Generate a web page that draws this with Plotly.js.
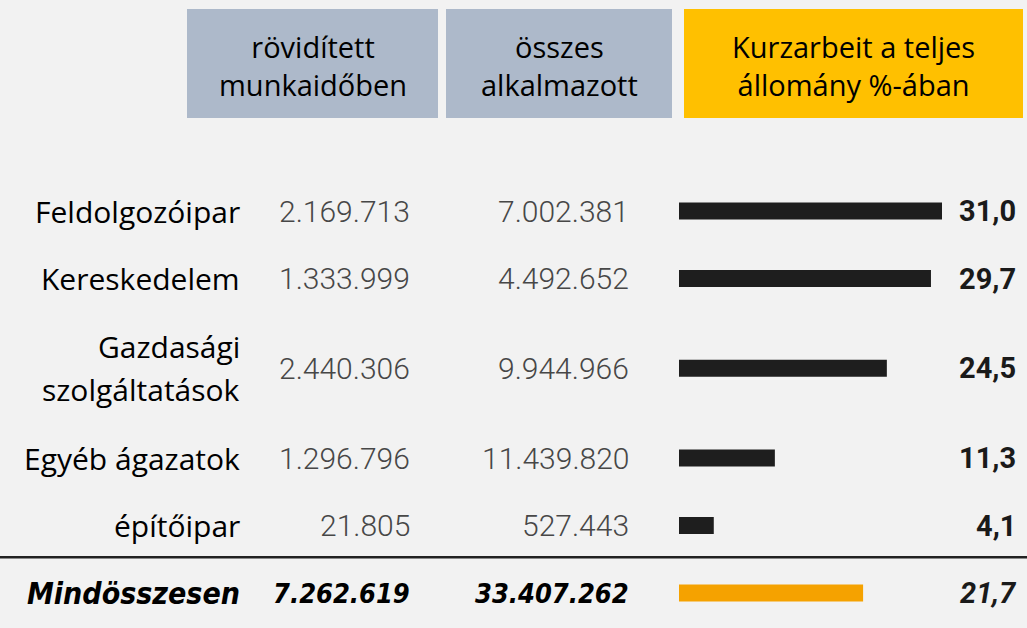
<!DOCTYPE html>
<html><head><meta charset="utf-8">
<script src="https://cdn.plot.ly/plotly-3.0.1.min.js"></script>
<style>html,body{margin:0;padding:0;background:#f2f2f2;}#chart{width:1027px;height:628px;}</style>
</head><body><div id="chart"></div>
<script>
// ---- data ----
const categories = ["Feldolgozóipar", "Kereskedelem", "Gazdasági<br>szolgáltatások", "Egyéb ágazatok", "építőipar", "Mindösszesen"];
const shortTime = ["2.169.713", "1.333.999", "2.440.306", "1.296.796", "21.805", "7.262.619"];
const allEmployees = ["7.002.381", "4.492.652", "9.944.966", "11.439.820", "527.443", "33.407.262"];
const sharePct = [31.0, 29.7, 24.5, 11.3, 4.1, 21.7];
const shareLabels = ["31,0", "29,7", "24,5", "11,3", "4,1", "21,7"];
const headers = ["rövidített<br>munkaidőben", "összes<br>alkalmazott", "Kurzarbeit a teljes<br>állomány %-ában"];

// ---- layout helpers ----
const W = 1027, H = 628;
const baseRow = 67.5, lineExtra = 44.5, firstCenter = 211;
const lines = categories.map(c => c.split("<br>").length);
const heights = lines.map(n => baseRow + lineExtra * (n - 1));
const yPos = [firstCenter];
for (let i = 1; i < categories.length; i++) yPos.push(yPos[i-1] + (heights[i-1] + heights[i]) / 2);
const last = categories.length - 1;
const isTotal = categories.map((c, i) => i === last);

const px = v => v / W;
const barColors = isTotal.map(t => t ? "#f5a200" : "#1e1e1e");

const trace = {
  type: "bar", orientation: "h",
  x: sharePct, y: yPos,
  width: categories.map(() => 17),
  marker: {color: barColors, line: {width: 0}},
  hoverinfo: "skip"
};

const annotations = [];
const labelFont = {family: "Open Sans, Noto Sans, sans-serif", size: 30, color: "#000"};
const totalFont = {family: "Liberation Sans Narrow, DejaVu Sans Condensed, sans-serif", size: 30, color: "#000", weight: 700, style: "italic"};
const totalNumFont = Object.assign({}, totalFont, {size: 27});
const numFont = {family: "Roboto, sans-serif", size: 30, color: "#474747", weight: 300};
const valFont = {family: "Roboto, sans-serif", size: 29, color: "#1a1a1a", weight: 700};

categories.forEach((c, i) => {
  const parts = c.split("<br>");
  parts.forEach((p, k) => {
    const off = (k - (parts.length - 1) / 2) * 43;
    annotations.push({xref: "paper", yref: "y", x: px(242), y: yPos[i] + off, xanchor: "right", yanchor: "middle",
      text: isTotal[i] ? "<i><b>" + p + "</b></i>" : p, showarrow: false, font: isTotal[i] ? totalFont : labelFont});
  });
  annotations.push({xref: "paper", yref: "y", x: px(412), y: yPos[i], xanchor: "right", yanchor: "middle",
    text: isTotal[i] ? "<i><b>" + shortTime[i] + "</b></i>" : shortTime[i], showarrow: false, font: isTotal[i] ? totalNumFont : numFont});
  annotations.push({xref: "paper", yref: "y", x: px(631), y: yPos[i], xanchor: "right", yanchor: "middle",
    text: isTotal[i] ? "<i><b>" + allEmployees[i] + "</b></i>" : allEmployees[i], showarrow: false, font: isTotal[i] ? totalNumFont : numFont});
  annotations.push({xref: "paper", yref: "y", x: px(1018), y: yPos[i], xanchor: "right", yanchor: "middle",
    text: isTotal[i] ? "<i>" + shareLabels[i] + "</i>" : shareLabels[i], showarrow: false,
    font: isTotal[i] ? Object.assign({}, valFont, {style: "italic"}) : valFont});
});

const boxes = [[187, 438, "#adb9ca"], [446, 672, "#adb9ca"], [684, 1023, "#ffc000"]];
const shapes = boxes.map(b => ({type: "rect", xref: "paper", yref: "y", x0: px(b[0]), x1: px(b[1]), y0: 9, y1: 118,
  fillcolor: b[2], line: {width: 0}, layer: "below"}));
boxes.forEach((b, i) => {
  annotations.push({xref: "paper", yref: "y", x: px((b[0] + b[1]) / 2), y: 65, xanchor: "center", yanchor: "middle",
    text: headers[i], showarrow: false, align: "center",
    font: {family: "Open Sans, Noto Sans, sans-serif", size: 29, color: "#000"}});
});
const sepY = (yPos[last - 1] + yPos[last]) / 2 - 2;
shapes.push({type: "line", xref: "paper", yref: "y", x0: 0, x1: 1, y0: sepY, y1: sepY, line: {color: "#222", width: 2.5}});

// x scale: 0 at px 679, 31 at px 942
const x0px = 679, unit = (942 - 679) / 31;
const layout = {
  width: W, height: H, margin: {l: 0, r: 0, t: 0, b: 0},
  paper_bgcolor: "#f2f2f2", plot_bgcolor: "rgba(0,0,0,0)",
  showlegend: false,
  xaxis: {domain: [px(x0px), 1], range: [0, (W - x0px) / unit], visible: false, fixedrange: true},
  yaxis: {domain: [0, 1], range: [H, 0], visible: false, fixedrange: true},
  shapes: shapes, annotations: annotations
};
Plotly.newPlot("chart", [trace], layout, {displayModeBar: false, staticPlot: true});
</script></body></html>
